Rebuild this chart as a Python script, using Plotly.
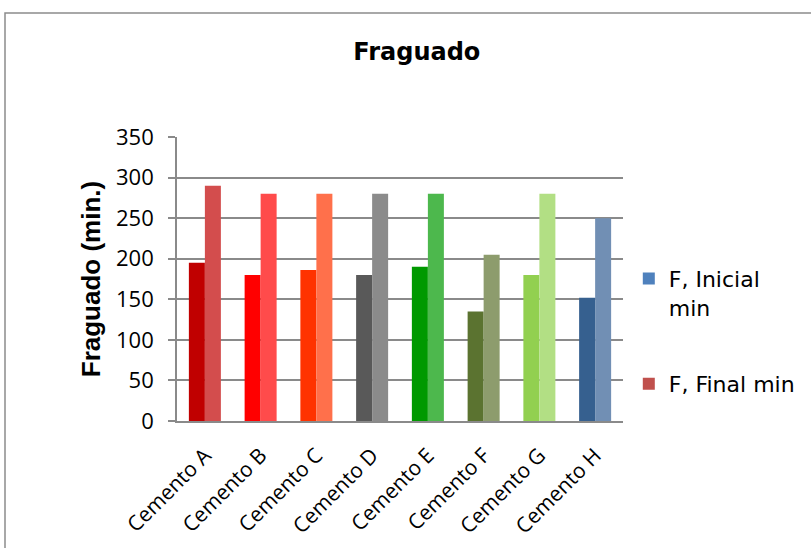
import plotly.graph_objects as go

categories = ["Cemento A", "Cemento B", "Cemento C", "Cemento D",
              "Cemento E", "Cemento F", "Cemento G", "Cemento H"]
inicial = [195, 180, 186, 180, 190, 135, 180, 152]
final = [290, 280, 280, 280, 280, 205, 280, 250]
inicial_colors = ["#C00000", "#FF0000", "#FF3300", "#595959",
                  "#009900", "#5B7330", "#92D050", "#36608F"]
final_colors = ["#D34D4D", "#FF4B4B", "#FF704B", "#8B8B8B",
                "#4DB84D", "#8D9C6D", "#B2DF84", "#718FB4"]
y_ticks = [0, 50, 100, 150, 200, 250, 300, 350]

GRID = "#8A8A8A"

fig = go.Figure()
fig.add_trace(go.Bar(x=categories, y=inicial, marker=dict(color=inicial_colors, line=dict(width=0)),
                     showlegend=False, name="F, Inicial min"))
fig.add_trace(go.Bar(x=categories, y=final, marker=dict(color=final_colors, line=dict(width=0)),
                     showlegend=False, name="F, Final min"))
# legend entries
fig.add_trace(go.Scatter(x=[None], y=[None], mode="markers", name="F, Inicial<br>min",
                         legendgroup="a",
                         marker=dict(symbol="square", size=12, color="#4F81BD")))
fig.add_trace(go.Scatter(x=[None], y=[None], mode="markers", name="F, Final min",
                         legendgroup="b",
                         marker=dict(symbol="square", size=12, color="#C0504D")))

fig.update_layout(
    width=811, height=548,
    margin=dict(l=177, r=188, t=137, b=127, autoexpand=False),
    paper_bgcolor="white", plot_bgcolor="white",
    barmode="group", bargap=0.426, bargroupgap=0,
    title=dict(text="<b>Fraguado</b>", x=0.514, xanchor="center", y=0.905, yanchor="middle",
               font=dict(family="DejaVu Sans", size=24, color="black")),
    font=dict(family="DejaVu Sans", color="black"),
    legend=dict(x=1.013, xanchor="left", y=0.575, yanchor="top",
                font=dict(family="DejaVu Sans", size=22, color="black"),
                tracegroupgap=45, valign="top", itemwidth=30, bgcolor="rgba(0,0,0,0)"),
    shapes=[dict(type="rect", xref="paper", yref="paper",
                 x0=(5 - 177) / 446, x1=2, y0=-2, y1=(421 - 13) / 284,
                 line=dict(color="#8C8C8C", width=1.5), fillcolor="rgba(0,0,0,0)", layer="below")],
)
fig.update_xaxes(
    automargin=False,
    showline=True, linecolor=GRID, linewidth=1.75,
    tickangle=-45, tickfont=dict(family="Open Sans", size=21, color="black"),
    ticklabelstandoff=12,
    ticks="", showgrid=False,
)
fig.update_yaxes(
    automargin=False,
    range=[0, 350], tickvals=y_ticks,
    showline=True, linecolor=GRID, linewidth=1.75,
    ticks="outside", ticklen=7, tickcolor=GRID, tickwidth=1.5,
    ticklabelstandoff=10,
    showgrid=True, gridcolor=GRID, gridwidth=1.75,
    tickfont=dict(family="Open Sans", size=22, color="black"),
    title=dict(text="<b>Fraguado (min.)</b>", standoff=8,
               font=dict(family="Liberation Sans", size=26, color="black")),
    zeroline=False,
)

fig.write_html("out.html", post_script="document.body.style.margin='0';",
               config={"displayModeBar": False})
